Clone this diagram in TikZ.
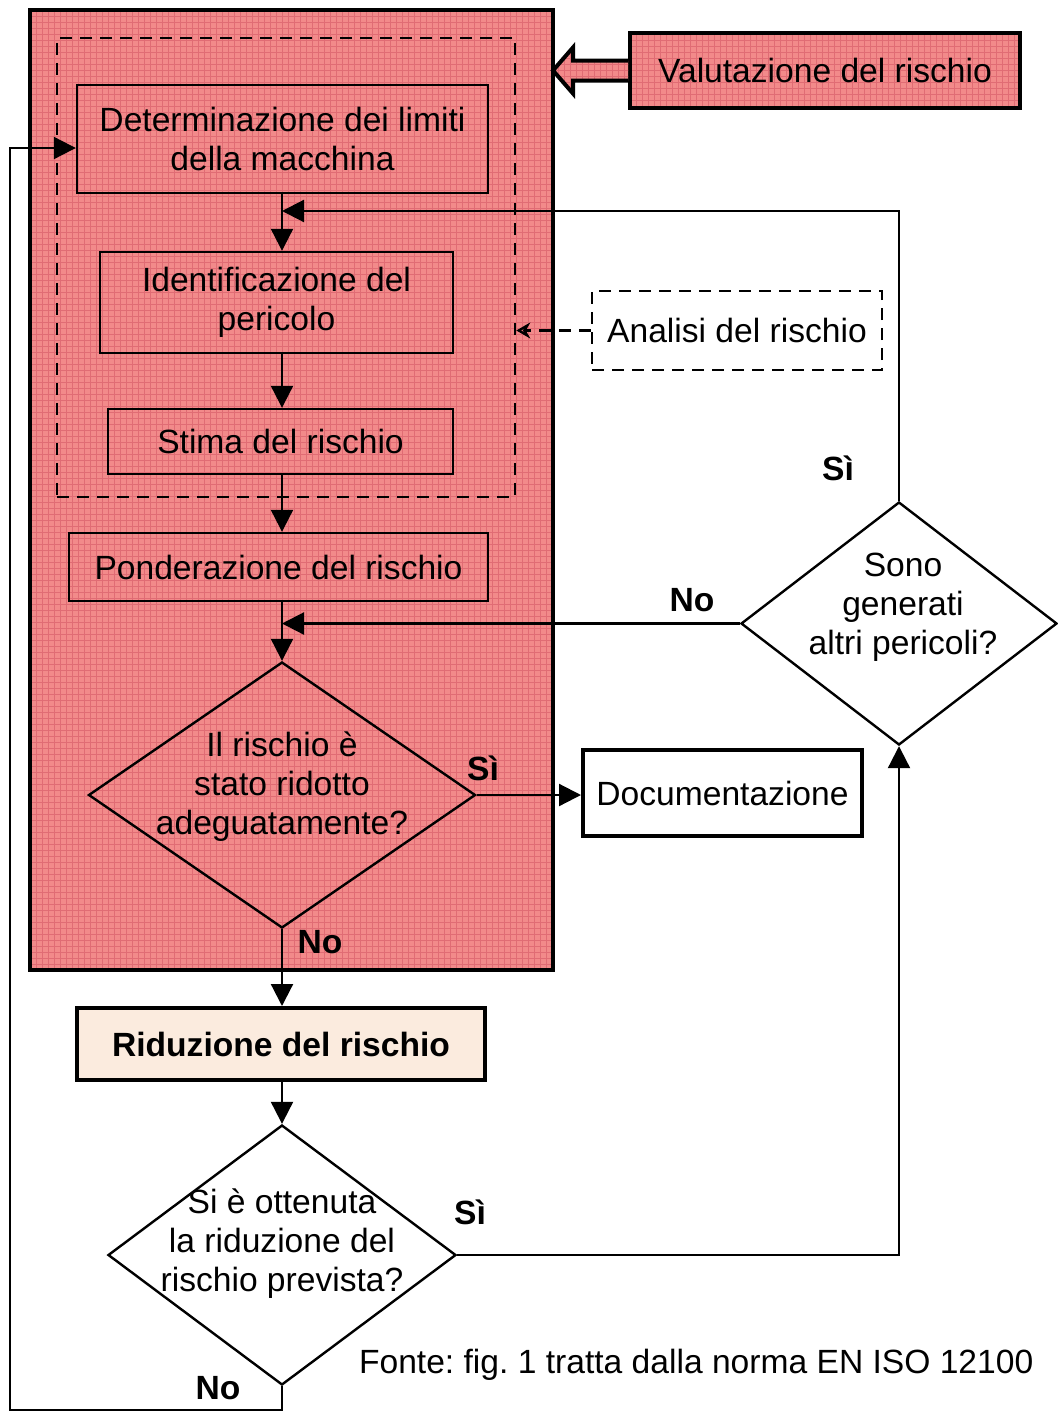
\documentclass[tikz,border=0pt]{standalone}
\usepackage{fontspec}
\setmainfont{Liberation Sans}
\usetikzlibrary{shapes.geometric,arrows.meta,patterns}
\definecolor{rosa}{RGB}{242,138,138}
\definecolor{rosagrid}{RGB}{224,108,116}
\definecolor{beige}{RGB}{251,235,222}
\newcommand{\flowfont}{\fontsize{16.8}{19.5}\selectfont\frenchspacing}
\tikzset{
  box/.style={draw,line width=1.2pt,rectangle,inner sep=0pt,align=center},
  thickbox/.style={box,line width=2pt},
  pinkfill/.style={preaction={fill=rosa},pattern=grid,pattern color=rosagrid},
  decision/.style={draw,line width=1.2pt,diamond,inner sep=0pt},
  answer/.style={font=\flowfont\bfseries},
  flow/.style={line width=1.1pt,-{Triangle[length=11pt,width=11pt]}},
  dashline/.style={line width=1.3pt,dash pattern=on 6pt off 4pt}
}
\begin{document}
\begin{tikzpicture}[x=0.5pt,y=-0.5pt,font=\flowfont]
        \useasboundingbox (0,0) rectangle (1058,1414);
        \coordinate (spine) at (282,0);

        % valutazione del rischio
        \node[thickbox,pinkfill,minimum width=261.5pt,minimum height=480pt] (valarea) at (291.5,490) {};
        \node[box,dashline,minimum width=229pt,minimum height=229.5pt] (anarea) at (286,267.5) {};
        \node[thickbox,pinkfill,minimum width=195pt,minimum height=37.5pt] (valutazione) at (825,70.5) {Valutazione del rischio};
        \draw[line width=2pt,pinkfill] (valutazione.west) ++(0,-10) -- ++(-55,0) -- ++(0,-13) -- ++(-20,23)
              -- ++(20,23) -- ++(0,-13) -- ++(55,0);
        \node[box,dashline,minimum width=145pt,minimum height=39.5pt] (analisi) at (737,330.5) {Analisi del rischio};
        \draw[dashline,-{Stealth[open,length=7pt,width=8pt]}] (analisi.west) -- (anarea.east |- analisi.west);

        % passi
        \node[box,minimum width=205.5pt,minimum height=54pt] (limiti) at (282.5,139) {Determinazione dei limiti\\della macchina};
        \node[box,minimum width=176.5pt,minimum height=50.5pt] (pericolo) at (276.5,302.5) {Identificazione del\\pericolo};
        \node[box,minimum width=172.5pt,minimum height=32.5pt] (stima) at (280.5,441.5) {Stima del rischio};
        \node[box,minimum width=209.5pt,minimum height=34pt] (ponderazione) at (278.5,567) {Ponderazione del rischio};
        \node[decision,minimum width=193.5pt,minimum height=133pt] (ridotto) at (282,795) {};
        \node[align=center] (ridottotxt) at ([yshift=4pt]ridotto.center) {Il rischio è\\stato ridotto\\adeguatamente?};
        \node[thickbox,fill=white,minimum width=139.5pt,minimum height=43pt] (doc) at (722.5,793) {Documentazione};
        \node[thickbox,fill=beige,font=\flowfont\bfseries,minimum width=204pt,minimum height=36pt] (riduzione) at (281,1044) {Riduzione del rischio};
        \node[decision,minimum width=174pt,minimum height=130pt] (ottenuta) at (282,1255) {};
        \node[align=center] (ottenutatxt) at ([yshift=5.5pt]ottenuta.center) {Si è ottenuta\\la riduzione del\\rischio prevista?};
        \node[decision,minimum width=158pt,minimum height=121.5pt] (generati) at (899,623.5) {};
        \node[align=center] (generatitxt) at ([xshift=2pt,yshift=8pt]generati.center) {Sono\\generati\\altri pericoli?};

        % risposte
        \node[answer] (si1) at (483,768) {Sì};
        \node[answer] (no1) at (320,942) {No};
        \node[answer] (si2) at (470,1212) {Sì};
        \node[answer] (no2) at (218,1388) {No};
        \node[answer] (si3) at (838,468) {Sì};
        \node[answer] (no3) at (692,600) {No};

        \node[anchor=west] (fonte) at (352,1365) {Fonte: fig. 1 tratta dalla norma EN ISO 12100};

        % frecce
        \coordinate (loopin) at (282,211);
        \coordinate (noin) at (282,623.5);
        \coordinate (bottomleft) at (10,1410);
        \draw[flow] (limiti.south -| spine) -- (pericolo.north -| spine);
        \draw[flow] (pericolo.south -| spine) -- (stima.north -| spine);
        \draw[flow] (stima.south -| spine) -- (ponderazione.north -| spine);
        \draw[flow] (ponderazione.south -| spine) -- (ridotto.north);
        \draw[flow] (ridotto.east) -- (doc.west |- ridotto.east);
        \draw[flow] (ridotto.south) -- (riduzione.north -| spine);
        \draw[flow] (riduzione.south -| spine) -- (ottenuta.north);
        \draw[flow] (ottenuta.east) -| (generati.south);
        \draw[flow] (generati.north) |- (loopin);
        \draw[flow] (generati.west) -- (noin);
        \draw[flow] (ottenuta.south) |- (bottomleft) |- ([yshift=-4.5pt]limiti.west);

\end{tikzpicture}
\end{document}
